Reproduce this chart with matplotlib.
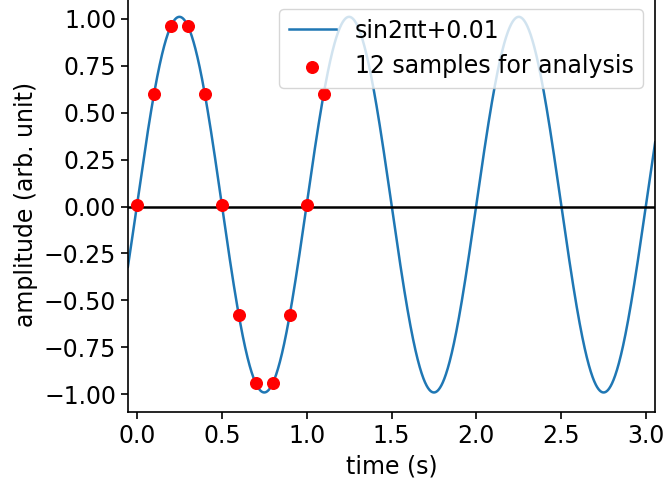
import numpy as np
import matplotlib
matplotlib.use("Agg")
import matplotlib.pyplot as plt

# curve parameters (from the legend label)
freq = 1.0
offset = 0.01
t_start, t_end = -0.06, 3.06

# sample points
sample_t = [0.0, 0.1, 0.2, 0.3, 0.4, 0.5, 0.6, 0.7, 0.8, 0.9, 1.0, 1.1]
sample_y = [0.01, 0.598, 0.961, 0.961, 0.598, 0.01, -0.578, -0.941, -0.941, -0.578, 0.01, 0.598]

plt.rcParams['font.size'] = 17

fig = plt.figure(figsize=(6.66, 4.83), dpi=100)
ax = fig.add_axes([0.1922, 0.147, 0.7913, 0.8586])

t = np.linspace(t_start, t_end, 2000)
ax.plot(t, np.sin(2 * np.pi * freq * t) + offset, color='tab:blue', lw=1.8,
        label='sin2πt+0.01')
ax.scatter(sample_t, sample_y, color='red', s=70, zorder=3,
           label='12 samples for analysis')
ax.axhline(0, color='black', lw=1.8)

ax.set_xlim(-0.053, 3.053)
ax.set_ylim(-1.094, 1.114)
ax.set_xticks([0.0, 0.5, 1.0, 1.5, 2.0, 2.5, 3.0])
ax.set_yticks([-1.0, -0.75, -0.5, -0.25, 0.0, 0.25, 0.5, 0.75, 1.0])
ax.tick_params(length=5, width=1.2)
for s in ax.spines.values():
    s.set_linewidth(1.2)

ax.set_xlabel('time (s)', labelpad=5)
ax.set_ylabel('amplitude (arb. unit)')
ax.legend(loc='upper right')

fig.savefig('out.png', dpi=100)
